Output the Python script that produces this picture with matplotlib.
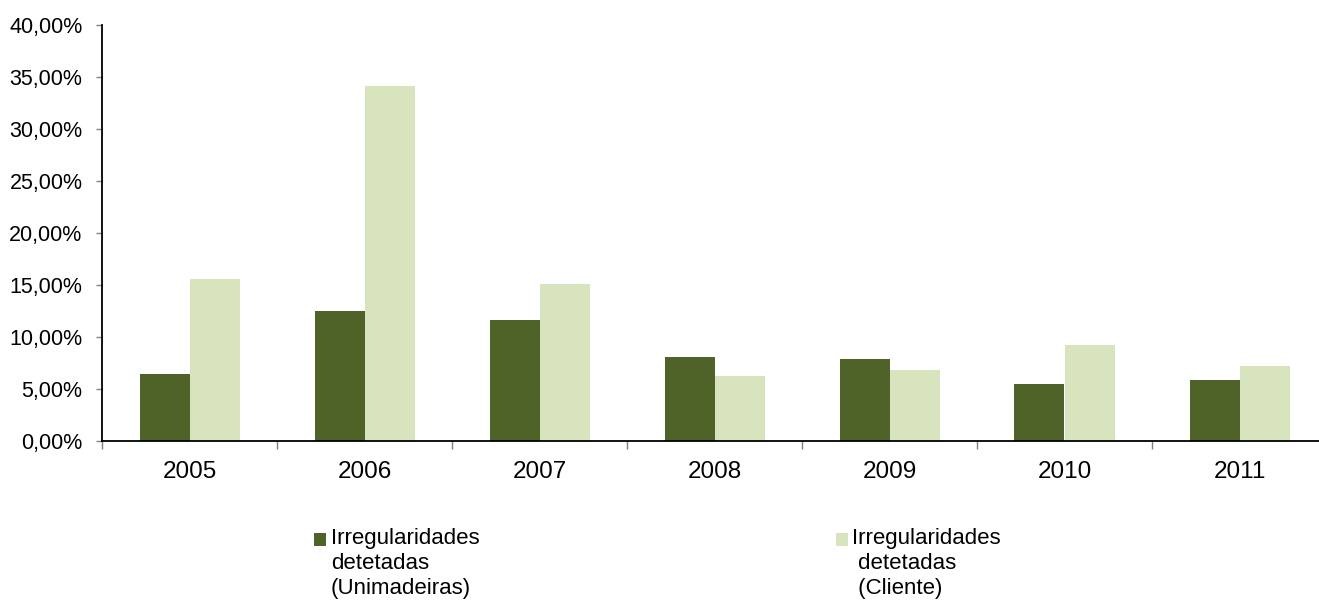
import matplotlib
matplotlib.use("Agg")
import matplotlib.pyplot as plt
from matplotlib.patches import Rectangle
from matplotlib.ticker import FuncFormatter, FixedLocator
import numpy as np

plt.rcParams['font.family'] = ['Liberation Sans', 'DejaVu Sans']

years = ["2005", "2006", "2007", "2008", "2009", "2010", "2011"]
unimadeiras = [6.46, 12.50, 11.64, 8.06, 7.87, 5.50, 5.88]
cliente = [15.58, 34.10, 15.10, 6.27, 6.84, 9.21, 7.20]
series_labels = ["Irregularidades\ndetetadas\n(Unimadeiras)",
                 "Irregularidades\n detetadas\n (Cliente)"]
dark = "#4F6228"
light = "#D7E4BD"

W, H = 1319, 600
fig = plt.figure(figsize=(W / 100, H / 100), dpi=100)
x0, x1 = 102, 1327
y0, y1 = 441.3, 24.7
ax = fig.add_axes([x0 / W, (H - y0) / H, (x1 - x0) / W, (y0 - y1) / H])

x = np.arange(len(years))
bw = 50 / 175
ax.bar(x - bw / 2, unimadeiras, width=bw, color=dark, edgecolor="none")
ax.bar(x + bw / 2, cliente, width=bw, color=light, edgecolor="none")

ax.set_xlim(-0.5, len(years) - 0.5)
ax.set_ylim(0, 40)
ax.set_yticks(np.arange(0, 41, 5))
ax.yaxis.set_major_formatter(FuncFormatter(lambda v, p: f"{v:.2f}".replace(".", ",") + "%"))

# category boundaries carry the tick marks, centres carry the labels
ax.xaxis.set_major_locator(FixedLocator(np.arange(-0.5, len(years), 1.0)))
ax.xaxis.set_minor_locator(FixedLocator(x))
ax.set_xticklabels([], minor=False)
ax.set_xticks(x, years, minor=True)
ax.tick_params(axis="x", which="major", length=6, width=1, color="#808080", direction="out")
ax.tick_params(axis="x", which="minor", length=0, pad=14, labelsize=17.5)
ax.tick_params(axis="y", length=4, width=1, color="#808080", pad=10, labelsize=15.5)

for s in ("top", "right"):
    ax.spines[s].set_visible(False)
for s in ("left", "bottom"):
    ax.spines[s].set_color("black")
    ax.spines[s].set_linewidth(1.3)

# legend entries: square swatch beside the first line of each label
entries = [(314, 331, dark, series_labels[0]), (836, 852, light, series_labels[1])]
for sx, tx, col, lab in entries:
    fig.patches.append(Rectangle((sx / W, (H - 546) / H), 12 / W, 13 / H,
                                 transform=fig.transFigure, facecolor=col,
                                 edgecolor="none"))
    fig.text(tx / W, (H - 528) / H, lab, ha="left", va="top", fontsize=16,
             linespacing=1.25)

fig.savefig("out.png", dpi=100, facecolor="white")
